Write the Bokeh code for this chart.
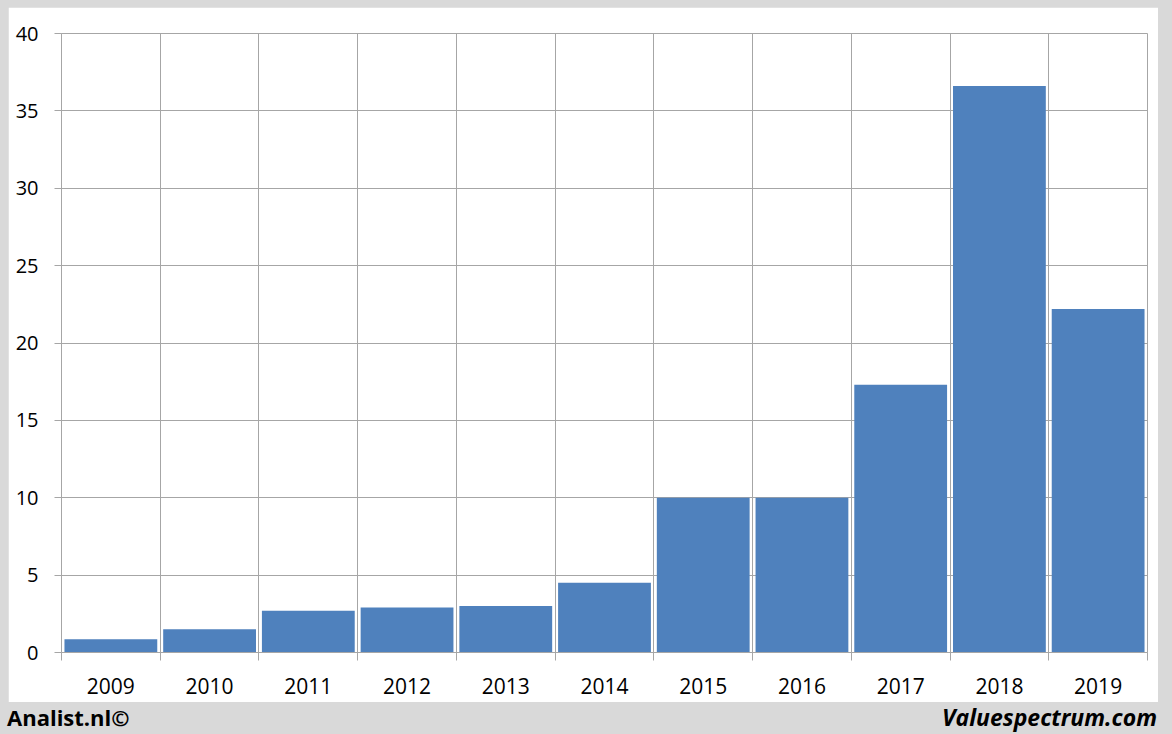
from bokeh.plotting import figure
from bokeh.models import Range1d, FixedTicker, ColumnDataSource, Div
from bokeh.layouts import column
from bokeh.embed import file_html
from bokeh.resources import INLINE

years = [2009, 2010, 2011, 2012, 2013, 2014, 2015, 2016, 2017, 2018, 2019]
values = [0.85, 1.5, 2.7, 2.9, 3.0, 4.5, 10.0, 10.0, 17.3, 36.6, 22.2]
y_ticks = [0, 5, 10, 15, 20, 25, 30, 35, 40]
footer_left = "Analist.nl©"
footer_right = "Valuespectrum.com"

GRID = "#a6a6a6"
BAR = "#4f81bd"
BG = "#d9d9d9"

src = ColumnDataSource(dict(x=years, top=values))

p = figure(width=1150, height=695, output_backend="svg", toolbar_location=None,
           x_range=Range1d(years[0] - 0.5, years[-1] + 0.5), y_range=Range1d(0, 40),
           min_border_left=53, min_border_right=11, min_border_top=26, min_border_bottom=50)
p.background_fill_color = "white"
p.border_fill_color = "white"
p.outline_line_color = GRID

p.vbar(x="x", top="top", width=0.94, bottom=0, source=src, fill_color=BAR, line_color=None)

bounds = [y - 0.5 for y in years] + [years[-1] + 0.5]
p.xaxis.ticker = FixedTicker(ticks=years, minor_ticks=bounds)
p.xaxis.major_label_overrides = {y: str(y) for y in years}
p.xaxis.major_tick_line_color = None
p.xaxis.minor_tick_line_color = GRID
p.xaxis.minor_tick_out = 8
p.xaxis.minor_tick_in = 0
p.xaxis.axis_line_color = GRID
p.xaxis.major_label_text_font = "Open Sans"
p.xaxis.major_label_text_font_size = "21px"
p.xaxis.major_label_text_color = "black"
p.xaxis.major_label_standoff = 17
p.xgrid.ticker = FixedTicker(ticks=bounds)
p.xgrid.grid_line_color = GRID

p.yaxis.ticker = FixedTicker(ticks=y_ticks)
p.yaxis.major_tick_out = 7
p.yaxis.major_tick_in = 0
p.yaxis.major_tick_line_color = GRID
p.yaxis.minor_tick_line_color = None
p.yaxis.axis_line_color = GRID
p.yaxis.major_label_text_font = "Open Sans"
p.yaxis.major_label_text_font_size = "20px"
p.yaxis.major_label_text_color = "black"
p.yaxis.major_label_standoff = 16
p.ygrid.grid_line_color = GRID

footer_html = (
    '<div style="display:flex;justify-content:space-between;align-items:baseline;'
    'width:1150px;font-family:\'Open Sans\';font-weight:bold;color:black;'
    'line-height:24px;padding-top:3px;">'
    f'<span style="font-size:22px;margin-left:-1px;">{footer_left}</span>'
    f'<span style="font-size:23px;font-style:italic;margin-right:1px;">{footer_right}</span>'
    '</div>'
)
footer = Div(text=footer_html, width=1150, height=32,
             styles={"background-color": BG, "margin": "0", "padding": "0"})

layout = column(p, footer, spacing=0,
                styles={"background-color": BG, "padding": "7px 14px 0px 8px"})
html = file_html(layout, INLINE)
html = html.replace("<body>", '<body style="background-color:#d9d9d9;">', 1)
open("out.html", "w").write(html)
